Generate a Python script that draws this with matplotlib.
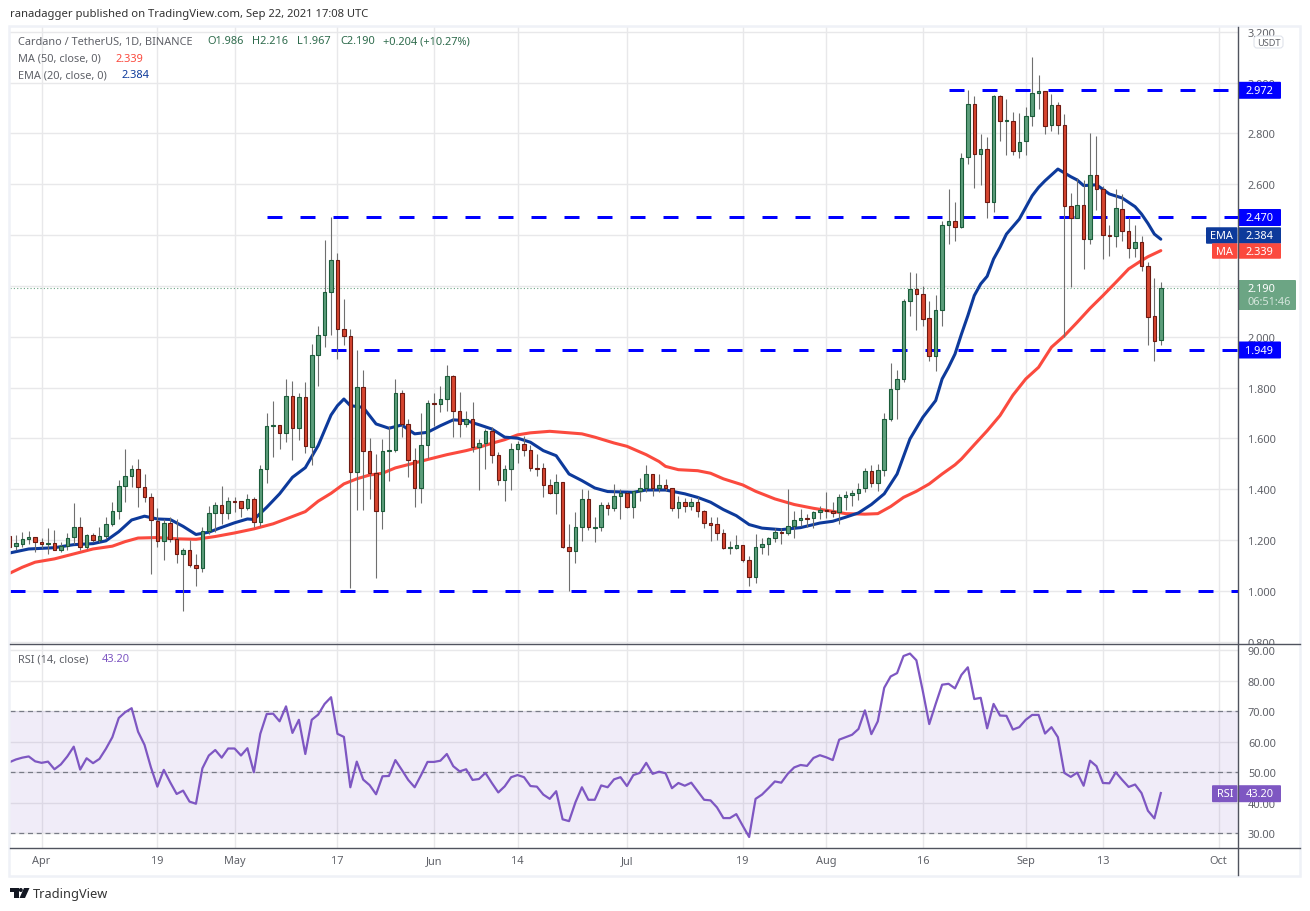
import numpy as np
import matplotlib
matplotlib.use("Agg")
import matplotlib.pyplot as plt
from matplotlib.patches import Rectangle, FancyBboxPatch, Polygon, Circle
from matplotlib.transforms import Bbox

plt.rcParams['font.family'] = ['Noto Sans', 'DejaVu Sans']

# ---------- data (days counted from 1 April 2021) ----------
days = list(range(-5, 175))
opens = [1.215,1.176,1.186,1.203,1.211,1.191,1.184,1.188,1.160,1.178,
 1.211,1.250,1.172,1.218,1.202,1.215,1.262,1.313,1.412,1.451,
 1.479,1.408,1.368,1.274,1.195,1.266,1.203,1.144,1.160,1.101,
 1.089,1.237,1.306,1.337,1.306,1.353,1.353,1.325,1.361,1.270,
 1.479,1.648,1.652,1.620,1.766,1.640,1.762,1.565,1.927,2.006,
 2.175,2.301,2.029,2.002,1.467,1.801,1.549,1.463,1.313,1.549,
 1.553,1.778,1.656,1.514,1.404,1.573,1.738,1.734,1.754,1.844,
 1.707,1.656,1.675,1.565,1.581,1.628,1.534,1.435,1.479,1.557,
 1.577,1.553,1.484,1.483,1.416,1.384,1.427,1.172,1.156,1.250,
 1.361,1.249,1.250,1.337,1.325,1.372,1.384,1.329,1.392,1.404,
 1.459,1.404,1.416,1.404,1.325,1.349,1.333,1.349,1.313,1.266,
 1.262,1.227,1.169,1.170,1.180,1.121,1.054,1.172,1.184,1.207,
 1.231,1.226,1.254,1.278,1.286,1.286,1.309,1.317,1.313,1.309,
 1.368,1.376,1.384,1.404,1.471,1.424,1.475,1.675,1.793,1.833,
 2.140,2.187,2.167,2.073,1.923,2.104,2.439,2.454,2.433,2.706,
 2.915,2.718,2.737,2.529,2.946,2.848,2.848,2.732,2.769,2.867,
 2.958,2.966,2.832,2.911,2.832,2.513,2.469,2.517,2.383,2.635,
 2.580,2.399,2.395,2.501,2.415,2.348,2.372,2.280,2.081,1.986]
closes = [1.174,1.188,1.203,1.211,1.191,1.184,1.188,1.160,1.178,1.210,
 1.250,1.172,1.218,1.202,1.215,1.262,1.313,1.412,1.451,1.479,
 1.408,1.368,1.278,1.195,1.266,1.203,1.144,1.160,1.101,1.089,
 1.237,1.306,1.337,1.306,1.353,1.350,1.325,1.361,1.270,1.479,
 1.648,1.652,1.620,1.766,1.640,1.762,1.569,1.927,2.006,2.175,
 2.301,2.029,2.002,1.467,1.801,1.549,1.463,1.313,1.549,1.553,
 1.778,1.656,1.514,1.404,1.573,1.738,1.734,1.754,1.844,1.707,
 1.656,1.675,1.565,1.581,1.628,1.534,1.435,1.479,1.557,1.577,
 1.553,1.483,1.481,1.416,1.384,1.427,1.172,1.156,1.250,1.361,
 1.250,1.252,1.337,1.325,1.372,1.384,1.329,1.392,1.404,1.459,
 1.404,1.416,1.404,1.325,1.349,1.333,1.349,1.313,1.266,1.261,
 1.226,1.170,1.172,1.180,1.121,1.054,1.172,1.184,1.207,1.231,
 1.226,1.254,1.278,1.286,1.283,1.309,1.317,1.313,1.308,1.368,
 1.376,1.384,1.400,1.471,1.424,1.475,1.675,1.793,1.833,2.140,
 2.187,2.167,2.069,1.923,2.104,2.439,2.454,2.433,2.702,2.915,
 2.718,2.737,2.529,2.946,2.848,2.852,2.732,2.765,2.867,2.958,
 2.966,2.828,2.911,2.832,2.513,2.469,2.517,2.383,2.635,2.580,
 2.399,2.395,2.505,2.415,2.348,2.372,2.280,2.077,1.985,2.190]
highs = [1.230,1.220,1.231,1.236,1.213,1.207,1.247,1.240,1.191,1.228,
 1.346,1.291,1.224,1.228,1.250,1.291,1.349,1.435,1.559,1.496,
 1.519,1.460,1.386,1.325,1.283,1.290,1.281,1.169,1.202,1.146,
 1.250,1.334,1.351,1.412,1.371,1.368,1.355,1.382,1.368,1.496,
 1.700,1.747,1.653,1.834,1.826,1.779,1.821,1.972,2.044,2.381,
 2.470,2.330,2.149,2.031,1.948,1.869,1.602,1.539,1.598,1.648,
 1.834,1.791,1.677,1.561,1.700,1.751,1.778,1.806,1.889,1.850,
 1.783,1.708,1.744,1.598,1.637,1.646,1.548,1.496,1.582,1.589,
 1.608,1.574,1.539,1.502,1.441,1.460,1.430,1.264,1.312,1.401,
 1.397,1.292,1.351,1.351,1.421,1.401,1.388,1.395,1.443,1.496,
 1.459,1.460,1.441,1.404,1.375,1.365,1.365,1.368,1.320,1.290,
 1.290,1.244,1.197,1.220,1.181,1.139,1.224,1.207,1.211,1.247,
 1.247,1.401,1.315,1.323,1.303,1.316,1.336,1.389,1.350,1.382,
 1.392,1.396,1.425,1.483,1.496,1.500,1.700,1.897,1.871,2.149,
 2.254,2.251,2.199,2.142,2.164,2.457,2.581,2.532,2.723,2.971,
 2.949,2.798,2.785,2.951,2.951,2.936,2.883,2.880,2.903,3.099,
 3.030,2.966,2.955,2.925,2.876,2.566,2.623,2.615,2.800,2.790,
 2.595,2.440,2.581,2.562,2.470,2.440,2.395,2.296,2.231,2.216]
lows = [1.165,1.159,1.174,1.185,1.152,1.168,1.146,1.159,1.152,1.159,
 1.185,1.159,1.163,1.191,1.191,1.205,1.257,1.281,1.349,1.407,
 1.332,1.351,1.067,1.172,1.123,1.194,1.111,0.919,1.093,1.018,
 1.076,1.223,1.231,1.264,1.283,1.309,1.291,1.320,1.250,1.254,
 1.425,1.525,1.559,1.585,1.515,1.594,1.543,1.496,1.808,1.961,
 2.008,1.913,1.969,1.010,1.320,1.320,1.362,1.050,1.244,1.434,
 1.548,1.607,1.450,1.332,1.344,1.522,1.650,1.703,1.709,1.607,
 1.607,1.644,1.548,1.399,1.480,1.504,1.417,1.355,1.399,1.504,
 1.532,1.473,1.454,1.371,1.383,1.304,1.168,0.999,1.108,1.198,
 1.241,1.194,1.237,1.300,1.316,1.281,1.325,1.285,1.355,1.391,
 1.375,1.388,1.395,1.316,1.286,1.312,1.320,1.290,1.249,1.198,
 1.202,1.163,1.146,1.165,1.115,1.018,1.031,1.146,1.142,1.194,
 1.186,1.220,1.210,1.254,1.250,1.247,1.283,1.286,1.292,1.262,
 1.320,1.336,1.359,1.388,1.408,1.392,1.454,1.667,1.677,1.821,
 2.083,2.028,2.044,1.903,1.867,2.044,2.365,2.378,2.428,2.680,
 2.585,2.598,2.467,2.492,2.772,2.717,2.717,2.702,2.717,2.831,
 2.896,2.799,2.808,2.799,1.998,2.197,2.466,2.267,2.366,2.500,
 2.306,2.317,2.352,2.378,2.310,2.313,2.258,1.969,1.906,1.967]

ema_days = [-5,-2,2,5,8,10,12,14,16,18,20,22,24,26,28,30,32,33,35,37,39,41,43,45,46,47,48,50,52,54,56,58,60,62,64,66,68,70,72,74,76,78,80,82,84,86,88,92,94,97,100,102,104,106,108,110,112,115,118,121,123,125,127,129,131,133,135,137,139,140,141,142,143,144,145,146,147,148,149,150,152,154,155,156,158,160,161,162,164,166,168,170,171,172,173,174]
ema_vals = [1.149,1.165,1.170,1.182,1.186,1.197,1.233,1.279,1.294,1.283,1.281,1.254,1.222,1.231,1.250,1.268,1.283,1.281,1.329,1.382,1.447,1.485,1.572,1.692,1.729,1.755,1.729,1.722,1.657,1.640,1.653,1.618,1.624,1.650,1.673,1.670,1.654,1.637,1.605,1.601,1.585,1.552,1.532,1.460,1.434,1.405,1.391,1.388,1.397,1.397,1.382,1.368,1.349,1.320,1.296,1.261,1.247,1.241,1.249,1.267,1.274,1.290,1.307,1.340,1.382,1.460,1.598,1.683,1.749,1.834,1.880,1.932,2.010,2.083,2.162,2.208,2.238,2.306,2.352,2.404,2.463,2.555,2.588,2.614,2.660,2.630,2.617,2.595,2.598,2.562,2.546,2.512,2.483,2.446,2.404,2.384]
ma_days = [-5,-3,-1,2,4,6,8,11,13,15,18,21,24,27,30,33,36,38,41,43,45,47,49,51,53,55,57,60,63,66,68,70,72,74,76,79,81,84,86,89,91,94,96,97,99,102,104,106,109,111,114,117,120,123,125,128,130,132,134,136,138,140,142,143,145,147,149,151,153,155,157,159,161,163,165,167,169,171,172,174]
ma_vals = [1.069,1.093,1.113,1.126,1.139,1.152,1.165,1.176,1.194,1.208,1.210,1.205,1.203,1.214,1.228,1.244,1.264,1.283,1.312,1.353,1.384,1.421,1.441,1.456,1.463,1.484,1.497,1.517,1.536,1.552,1.565,1.581,1.595,1.614,1.622,1.628,1.624,1.618,1.605,1.582,1.569,1.536,1.509,1.490,1.477,1.473,1.463,1.441,1.417,1.392,1.362,1.340,1.325,1.313,1.304,1.302,1.304,1.332,1.368,1.392,1.421,1.460,1.496,1.519,1.575,1.630,1.690,1.770,1.834,1.880,1.959,2.004,2.057,2.112,2.162,2.214,2.267,2.300,2.315,2.339]
rsi_vals = [53.3,54.2,54.8,55.2,53.6,53.1,53.5,51,52.6,55.2,
 58.4,50.9,54.6,53,54.4,57.7,61.5,67.8,69.7,71,
 63.3,59,51.6,45.3,50.8,46.7,42.9,44,40.4,39.7,
 51.3,55.5,57.3,54.8,57.8,57.8,55.5,57.9,50,62.6,
 69.1,69.2,66.7,71.6,62.9,67.2,56,67.2,68.9,72.4,
 74.6,62.6,61.6,45.1,53.5,47.6,45.8,42.8,48.7,48.8,
 54,50.8,47.5,45.1,49.1,53.4,53.4,53.8,56,52,
 50.3,51,47.5,47.8,49.8,46.5,43.4,45.4,48.4,49.1,
 48.4,45.5,45.3,42.7,41.3,43.8,34.6,34,40.2,45.1,
 41,41,45.7,45.1,47.7,48.4,45.5,49.1,49.8,53.1,
 49.5,50.2,49.7,44.8,46.5,45.6,46.6,43.8,41,40.8,
 38.5,35,35,36.3,32.5,28.8,41.3,42.7,44.8,47,
 46.6,49.5,51.6,52.4,52.1,54.7,55.6,54.9,54,60.7,
 61.5,62.3,64.2,70.3,62.5,66.7,77.7,81.4,82.5,88.1,
 88.9,86.7,76.6,65.8,72.4,78.7,79,77.5,81.9,84.4,
 74,74.4,64.4,72.4,68.6,68.5,64,64.8,67.2,68.8,
 68.8,62.7,64.8,61.5,49.8,48.5,49.9,45.6,53.8,52,
 46.5,46.4,50,47.5,45.2,46,43.2,37.4,34.9,43.2]

level_values = [2.972, 2.470, 1.949, 1.000]
level_starts = [141, 35, 45, -4.91]
price_ticks = [0.8,1.0,1.2,1.4,1.6,1.8,2.0,2.2,2.4,2.6,2.8,3.0,3.2]
rsi_ticks = [30,40,50,60,70,80,90]
rsi_guides = [30,50,70]
date_ticks = [0,18,30,46,61,74,91,109,122,137,153,165,183]
date_labels = ['Apr','19','May','17','Jun','14','Jul','19','Aug','16','Sep','13','Oct']

# ---------- layout ----------
W, H = 1310, 912
L, R, T, MID, BOT = 10, 1238, 28, 644.5, 849
fig = plt.figure(figsize=(W/100, H/100), dpi=100, facecolor='white')
def px_axes(x0, y0, x1, y1, **kw):
    return fig.add_axes([x0/W, 1-y1/H, (x1-x0)/W, (y1-y0)/H], **kw)

GRID = '#e8e8ea'
LAB = '#5f6168'
FS = 7.9
UP, UP_E = '#5c9e7b', '#1b5c3a'
DN, DN_E = '#d6452f', '#6e1a12'
BLUE, RED = '#0d3a9b', '#fb4a3e'
PURPLE = '#7e57c2'
LEVEL = '#0000ff'

ax = px_axes(L, T, R, MID)
rs = px_axes(L, MID, R, BOT)
xlim = (-4.91, 186.0)
for a in (ax, rs):
    a.set_xlim(*xlim)
    a.set_facecolor('white')
    for s in a.spines.values():
        s.set_visible(False)
    a.set_xticks(date_ticks)
    a.grid(True, color=GRID, lw=1.0, zorder=0)
    a.set_axisbelow(True)
    a.yaxis.tick_right()
    a.tick_params(axis='y', length=0, labelsize=FS, labelcolor=LAB, pad=7.2)
    a.tick_params(axis='x', length=0, labelsize=FS, labelcolor=LAB)

# --- price pane
ax.set_ylim(0.793, 3.219)
ax.set_yticks(price_ticks, labels=[f'{v:.3f}' for v in price_ticks])
ax.tick_params(axis='x', labelbottom=False)
clip = Bbox([[R, H-MID], [1298, H-T]])
for t in ax.yaxis.get_major_ticks():
    t.label2.set_clip_on(True)
    t.label2.set_clip_box(clip)

ax.axhline(closes[-1], color='#6ca584', ls=(0, (1, 2)), lw=0.8, zorder=1)
for v, s in zip(level_values, level_starts):
    ax.plot([s, xlim[1]], [v, v], color=LEVEL, lw=2.16, ls=(0, (5, 6)),
            dash_capstyle='butt', zorder=2)
ax.plot(ma_days, ma_vals, color=RED, lw=2.2, zorder=3, solid_capstyle='round')
ax.plot(ema_days, ema_vals, color=BLUE, lw=2.2, zorder=3.1, solid_capstyle='round')

d = np.array(days)
o, c, h, l = map(np.array, (opens, closes, highs, lows))
up = c >= o
ax.vlines(d, l, h, color='#6f6f6f', lw=0.8, zorder=4)
ax.bar(d[up], (c-o)[up], bottom=o[up], width=0.55, color=UP, edgecolor=UP_E, lw=0.8, zorder=5)
ax.bar(d[~up], (c-o)[~up], bottom=o[~up], width=0.55, color=DN, edgecolor=DN_E, lw=0.8, zorder=5)

# --- RSI pane
rs.set_ylim(25.2, 92.2)
rs.set_yticks(rsi_ticks, labels=[f'{v:.2f}' for v in rsi_ticks])
rs.set_xticks(date_ticks, labels=date_labels)
rs.tick_params(axis='x', pad=5.0)
rs.axhspan(rsi_guides[0], rsi_guides[2], color=PURPLE, alpha=0.11, lw=0, zorder=1)
for v in rsi_guides:
    rs.axhline(v, color='#787b86', lw=0.9, ls=(0, (4, 3)), zorder=2)
rs.plot(days, rsi_vals, color=PURPLE, lw=1.6, zorder=3)

# --- overlay with the page chrome, tags and legends (pixel coordinates)
ov = fig.add_axes([0, 0, 1, 1], zorder=10)
ov.set_xlim(0, W); ov.set_ylim(H, 0); ov.axis('off'); ov.patch.set_alpha(0)

ov.add_patch(Rectangle((9, 27), 1291, 850, fill=False, ec='#eff1f7', lw=1.8))
ov.plot([L, 1300], [MID, MID], color='#50535e', lw=1.0)
ov.plot([L, 1300], [BOT, BOT], color='#50535e', lw=1.0)
ov.plot([R, R], [T, 876], color='#50535e', lw=1.0)

ov.text(10, 15, 'ranadagger published on TradingView.com, Sep 22, 2021 17:08 UTC',
        color='#333333', fontsize=8.1, va='center')

GT = '#2e6b4c'
row1 = [(18, 'Cardano / TetherUS, 1D, BINANCE', LAB), (207, 'O1.986', GT), (252, 'H2.216', GT),
        (297, 'L1.967', GT), (340, 'C2.190', GT), (383, '+0.204 (+10.27%)', GT)]
for x, s, col in row1:
    ov.text(x, 42, s, color=col, fontsize=FS, va='center')
ov.text(18, 59, 'MA (50, close, 0)', color=LAB, fontsize=FS, va='center')
ov.text(116, 59, '2.339', color=RED, fontsize=FS, va='center')
ov.text(18, 76, 'EMA (20, close, 0)', color=LAB, fontsize=FS, va='center')
ov.text(122, 76, '2.384', color=BLUE, fontsize=FS, va='center')
ov.text(18, 660, 'RSI (14, close)', color=LAB, fontsize=FS, va='center')
ov.text(102, 660, '43.20', color=PURPLE, fontsize=FS, va='center')

ov.add_patch(FancyBboxPatch((1254, 37), 29, 12, boxstyle='round,pad=0,rounding_size=3',
                            fc='white', ec='#e0e3eb', lw=0.8))
ov.text(1268.5, 43, 'USDT', color=LAB, fontsize=6.6, ha='center', va='center')

def tag(x0, x1, yc, hgt, col, text, tx=None, ha='center', fc='white', fw='bold'):
    ov.add_patch(FancyBboxPatch((x0, yc-hgt/2), x1-x0, hgt, boxstyle='round,pad=0,rounding_size=1',
                                fc=col, ec='none'))
    ov.text(tx if tx else (x0+x1)/2, yc+0.3, text, color=fc, fontsize=FS, fontweight=fw,
            ha=ha, va='center')

for yc, s in [(91.3, '2.972'), (218.5, '2.470'), (351, '1.949')]:
    tag(R, 1281, yc, 17, LEVEL, s)
tag(1206, 1237.5, 236.5, 16.5, BLUE, 'EMA')
tag(R+0.5, 1281, 236.5, 16.5, BLUE, '2.384')
tag(1212, 1237.5, 252, 15.5, RED, 'MA')
tag(R+0.5, 1281, 252, 15.5, RED, '2.339')
ov.add_patch(FancyBboxPatch((R, 281), 58, 30, boxstyle='round,pad=0,rounding_size=1', fc='#6ca584', ec='none'))
ov.text(1261.5, 290, '2.190', color='white', fontsize=FS, fontweight='bold', ha='center', va='center')
ov.text(1269.5, 303, '06:51:46', color='#d5e6dc', fontsize=FS, ha='center', va='center')
tag(1212, 1237.5, 794.7, 17, PURPLE, 'RSI')
tag(R+0.5, 1281, 794.7, 17, PURPLE, '43.20')

# TradingView logo
ov.add_patch(Polygon([(10, 889), (18.5, 889), (18.5, 899), (14, 899), (14, 893), (10, 893)], fc='#131722', ec='none'))
ov.add_patch(Circle((20.8, 891), 2.0, fc='#131722', ec='none'))
ov.add_patch(Polygon([(24, 889), (29.5, 889), (25, 899), (19.5, 899)], fc='#131722', ec='none'))
ov.text(33, 894.5, 'TradingView', color='#333333', fontsize=9.2, va='center')

fig.savefig('out.png', dpi=100, facecolor='white')
